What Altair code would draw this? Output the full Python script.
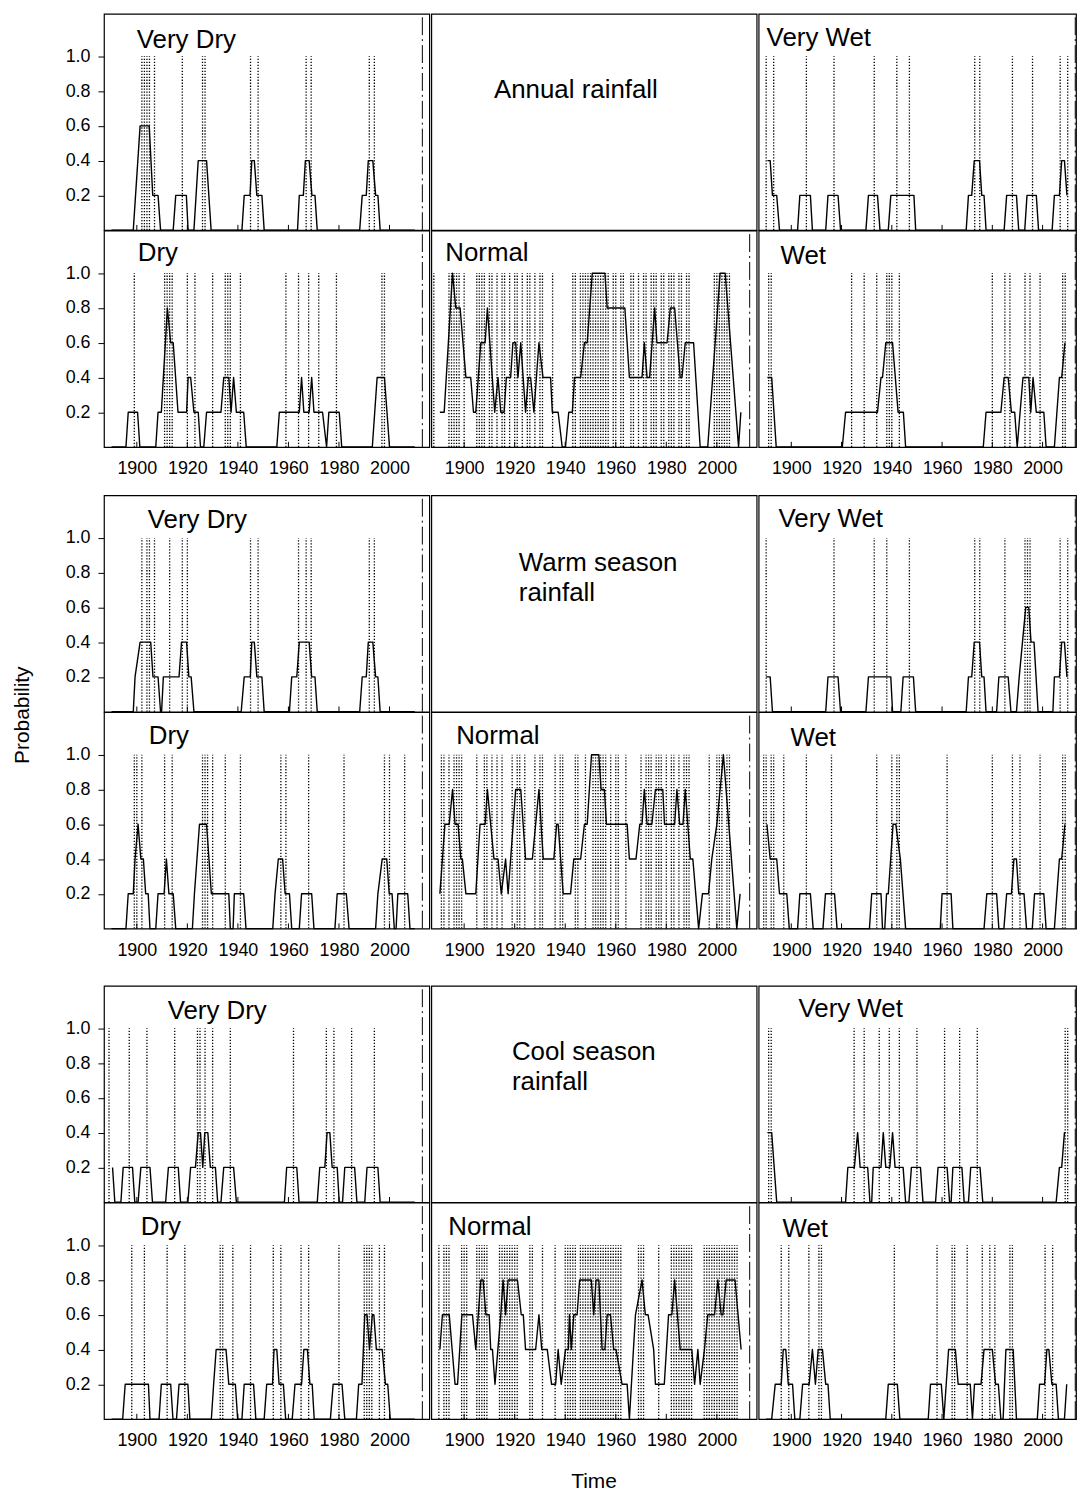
import altair as alt
import pandas as pd

FONT = "Liberation Sans"
TICK_YEARS = [1900, 1920, 1940, 1960, 1980, 2000]
PROB_TICKS = [0.2, 0.4, 0.6, 0.8, 1.0]
BREAK_YEAR = [2013]
X_DOMAIN = [1887, 2015.75]
X_DOMAIN_RIGHT = [1887, 2013.3]
Y_MAX = 1.245
EVENT_TOP = 1.0
TICK_LEN = 0.03

# ---------------- Annual rainfall ----------------
ANNUAL_VERY_DRY = [(1890, 0), (1898.6, 0), (1901.3, .6), (1904.9, .6), (1906.3, .2), (1908.4, .2), (1909.4, 0),
                   (1914.4, 0), (1915.4, .2), (1919.6, .2), (1920.3, 0), (1922.6, 0), (1924.3, .4), (1927.6, .4),
                   (1929.4, 0), (1941.6, 0), (1942.5, .2), (1944.8, .2), (1945.5, .4), (1946.5, .4), (1947.5, .2),
                   (1949.5, .2), (1950.4, 0), (1963.6, 0), (1964.3, .2), (1965.9, .2), (1966.7, .4), (1968.2, .4),
                   (1969.3, .2), (1970.5, .2), (1971.4, 0), (1988.2, 0), (1989.2, .2), (1990.8, .2), (1991.6, .4),
                   (1993.4, .4), (1994.5, .2), (1995.4, .2), (1996.3, 0), (2010, 0)]
ANNUAL_VERY_DRY_EVENTS = [1902, 1903, 1904, 1905, 1907, 1918, 1926, 1927, 1945, 1948, 1967, 1969, 1992, 1994]

ANNUAL_DRY = [(1890, 0), (1895.7, 0), (1896.6, .2), (1900.3, .2), (1901.2, 0), (1907.5, 0), (1908.4, .2),
              (1909.7, .2), (1912.1, .8), (1913.4, .6), (1914.4, .6), (1916.3, .2), (1919.7, .2), (1920.3, .4),
              (1921.3, .4), (1922.6, .2), (1924.3, .2), (1925.2, 0), (1926.5, 0), (1927.6, .2), (1933.3, .2),
              (1934.4, .4), (1936.4, .4), (1937.3, .2), (1938.3, .4), (1939.4, .2), (1942.3, .2), (1943.3, 0),
              (1955.4, 0), (1956.4, .2), (1964.3, .2), (1965.2, .4), (1966.1, .2), (1968.2, .2), (1969.2, .4),
              (1970.1, .2), (1973.5, .2), (1975.1, 0), (1976.0, .2), (1980.1, .2), (1981.1, 0), (1993.2, 0),
              (1995.1, .4), (1998.0, .4), (2000.0, 0), (2010, 0)]
ANNUAL_DRY_EVENTS = [1899, 1911, 1912, 1913, 1914, 1920, 1923, 1930, 1935, 1936, 1937, 1941, 1959, 1964, 1968,
                     1972, 1979, 1997, 1998]

ANNUAL_NORMAL = [(1890.4, .2), (1892.1, .2), (1895.4, 1.0), (1896.7, .8), (1898.4, .8), (1900.7, .4), (1902.6, .4),
                 (1903.7, .2), (1904.6, .2), (1906.6, .6), (1908.3, .6), (1909.2, .8), (1912.1, .2), (1913.4, .4),
                 (1914.5, .2), (1915.8, .2), (1916.7, .4), (1918.4, .4), (1919.3, .6), (1920.4, .6), (1921.3, .4),
                 (1922.4, .6), (1924.3, .2), (1925.4, .4), (1926.3, .4), (1927.6, .2), (1929.6, .6), (1931.2, .4),
                 (1934.2, .4), (1934.9, .2), (1937.2, .2), (1938.8, 0), (1940.1, 0), (1941.4, .2), (1942.8, .2),
                 (1943.7, .4), (1946.1, .4), (1947.6, .6), (1948.7, .6), (1950.7, 1.0), (1955.7, 1.0), (1956.6, .8),
                 (1963.6, .8), (1965.4, .4), (1970.4, .4), (1971.3, .6), (1972.4, .4), (1973.4, .4), (1975.4, .8),
                 (1976.3, .6), (1980.3, .6), (1981.6, .8), (1983.3, .8), (1985.5, .4), (1986.2, .4), (1987.5, .6),
                 (1990.8, .6), (1993.4, 0), (1996.4, 0), (2001.3, 1.0), (2003.3, 1.0), (2008.6, 0), (2009.5, .2)]
ANNUAL_NORMAL_EVENTS = [1888, 1894, 1895, 1896, 1897, 1898, 1900, 1905, 1906, 1907, 1908, 1910, 1911, 1913, 1915,
                        1916, 1918, 1920, 1921, 1923, 1925, 1926, 1928, 1930, 1931, 1935, 1943, 1944, 1946, 1947,
                        1948, 1949, 1950, 1951, 1952, 1953, 1954, 1955, 1956, 1957, 1959, 1960, 1962, 1963, 1966,
                        1967, 1969, 1971, 1972, 1974, 1975, 1976, 1978, 1979, 1981, 1982, 1983, 1985, 1986, 1988,
                        1989, 1999, 2000, 2001, 2002, 2003, 2004, 2005]

ANNUAL_VERY_WET = [(1890.5, .4), (1891.6, .4), (1892.5, .2), (1894.2, .2), (1895.3, 0), (1902.5, 0), (1903.4, .2),
                   (1907.6, .2), (1908.4, 0), (1913.7, 0), (1914.6, .2), (1918.6, .2), (1919.6, 0), (1929.7, 0),
                   (1930.7, .2), (1934.3, .2), (1935.3, 0), (1938.6, 0), (1939.6, .2), (1948.8, .2), (1949.5, 0),
                   (1969.6, 0), (1970.5, .2), (1971.8, .2), (1972.8, .4), (1974.9, .4), (1975.8, .2), (1976.7, .2),
                   (1977.5, 0), (1984.7, 0), (1985.7, .2), (1989.6, .2), (1990.5, 0), (1992.9, 0), (1993.8, .2),
                   (1997.5, .2), (1998.4, 0), (2003.8, 0), (2004.7, .2), (2006.7, .2), (2007.6, .4), (2008.7, .4),
                   (2009.7, .2)]
ANNUAL_VERY_WET_EVENTS = [1890, 1893, 1906, 1917, 1933, 1942, 1947, 1973, 1975, 1988, 1996, 2007, 2010]

ANNUAL_WET = [(1890.5, .4), (1892.2, .4), (1894, 0), (1920.3, 0), (1921.6, .2), (1934.3, .2), (1935.7, .4),
              (1936.3, .4), (1937.6, .6), (1940.3, .6), (1942.5, .2), (1944.6, .2), (1945.5, 0), (1976.4, 0),
              (1977.5, .2), (1983.4, .2), (1984.7, .4), (1986.3, .4), (1987.6, .2), (1988.9, .2), (1989.9, 0),
              (1992.2, .4), (1994.5, .4), (1995.3, .2), (1996.2, .4), (1997.5, .2), (2000.5, .2), (2001.4, 0),
              (2004.7, 0), (2006.7, .4), (2007.6, .4), (2008.9, .6)]
ANNUAL_WET_EVENTS = [1891, 1892, 1924, 1929, 1934, 1938, 1939, 1940, 1943, 1980, 1985, 1987, 1993, 1995, 1999,
                     2008, 2009]

# ---------------- Warm season rainfall ----------------
WARM_VERY_DRY = [(1890, 0), (1898.6, 0), (1899.3, .2), (1901.3, .4), (1905.5, .4), (1906.4, .2), (1908.4, .2),
                 (1909.4, 0), (1909.8, 0), (1910.5, .2), (1916.7, .2), (1917.7, .4), (1919.7, .4), (1920.6, .2),
                 (1921.5, .2), (1922.6, 0), (1941.3, 0), (1942.5, .2), (1944.9, .2), (1945.5, .4), (1946.5, .4),
                 (1947.5, .2), (1949.5, .2), (1950.4, 0), (1960.4, 0), (1961.3, .2), (1963.3, .2), (1964.3, .4),
                 (1968.2, .4), (1969.2, .2), (1970.5, .2), (1971.4, 0), (1988.2, 0), (1989.2, .2), (1990.8, .2),
                 (1991.6, .4), (1993.4, .4), (1994.5, .2), (1995.4, .2), (1996.3, 0), (2010, 0)]
WARM_VERY_DRY_EVENTS = [1902, 1904, 1905, 1907, 1913, 1918, 1920, 1945, 1948, 1964, 1967, 1969, 1992, 1994]

WARM_DRY = [(1890, 0), (1895.7, 0), (1896.6, .2), (1898.6, .2), (1899.3, .4), (1900.5, .6), (1901.6, .4),
            (1902.6, .4), (1903.5, .2), (1904.5, .2), (1905.2, 0), (1907.5, 0), (1908.4, .2), (1910.8, .2),
            (1911.7, .4), (1912.7, .2), (1914.4, .2), (1915.4, 0), (1922, 0), (1922.8, .2), (1924.8, .6),
            (1927.6, .6), (1929.5, .2), (1936.4, .2), (1937, 0), (1938.1, 0), (1938.6, .2), (1942.3, .2),
            (1943.2, 0), (1953.8, 0), (1954.7, .2), (1956, .4), (1957.7, .4), (1958.7, .2), (1960.4, .2),
            (1961.3, 0), (1964.3, 0), (1965.2, .2), (1969.2, .2), (1970.1, 0), (1978.4, 0), (1979.3, .2),
            (1982.9, .2), (1984, 0), (1994.5, 0), (1995.4, .2), (1997.1, .4), (1998.9, .4), (1999.9, .2),
            (2001, .2), (2001.9, 0), (2002.6, 0), (2003.3, .2), (2007.2, .2), (2008.1, 0), (2010, 0)]
WARM_DRY_EVENTS = [1899, 1900, 1902, 1911, 1914, 1926, 1927, 1928, 1930, 1935, 1941, 1957, 1959, 1968, 1982,
                   1998, 2000, 2006]

WARM_NORMAL = [(1890.4, .2), (1892.4, .6), (1894.1, .6), (1895.4, .8), (1896.4, .6), (1897.6, .6), (1898.7, .4),
               (1899.3, .4), (1900.7, .2), (1904.6, .2), (1906.3, .6), (1908.3, .6), (1909.2, .8), (1911.8, .4),
               (1913.4, .4), (1914.7, .2), (1916.4, .4), (1917.4, .2), (1920.4, .8), (1922.4, .8), (1924.3, .4),
               (1927, .4), (1929.6, .8), (1931.3, .4), (1935.5, .4), (1936.6, .6), (1937.2, .6), (1939.2, .2),
               (1942.1, .2), (1943.4, .4), (1946.1, .4), (1947.6, .6), (1948.7, .6), (1950.4, 1.0), (1953.3, 1.0),
               (1954.2, .8), (1955.5, .8), (1956.3, .6), (1964.5, .6), (1965.4, .4), (1968, .4), (1969.5, .6),
               (1970.4, .6), (1971.3, .8), (1972.4, .6), (1974.3, .6), (1975.7, .8), (1978.6, .8), (1979.3, .6),
               (1983.3, .6), (1984.2, .8), (1985.3, .6), (1986.6, .6), (1987.5, .8), (1989.5, .4), (1990.5, .4),
               (1992.8, 0), (1994.3, .2), (1996.7, .2), (1998, .4), (2000, .6), (2002.6, 1.0), (2007.9, 0),
               (2009.2, .2)]
WARM_NORMAL_EVENTS = [1891, 1892, 1894, 1896, 1897, 1898, 1899, 1905, 1908, 1909, 1911, 1913, 1915, 1919, 1921,
                      1922, 1924, 1928, 1930, 1931, 1936, 1938, 1939, 1944, 1945, 1948, 1951, 1952, 1953, 1954,
                      1955, 1956, 1958, 1960, 1961, 1964, 1970, 1972, 1973, 1974, 1976, 1977, 1978, 1980, 1982,
                      1983, 1985, 1987, 1988, 1989, 1997, 2000, 2001, 2002, 2004, 2005]

WARM_VERY_WET = [(1890, .2), (1891.6, .2), (1892.5, 0), (1913.7, 0), (1914.6, .2), (1918.6, .2), (1919.6, 0),
                 (1929.7, 0), (1930.7, .2), (1939.6, .2), (1940.3, 0), (1943.6, 0), (1944.5, .2), (1948.6, .2),
                 (1949.5, 0), (1969.6, 0), (1970.5, .2), (1971.8, .2), (1972.8, .4), (1974.9, .4), (1975.8, .2),
                 (1976.7, .2), (1977.5, 0), (1981.7, 0), (1982.6, .2), (1986.3, .2), (1987.4, 0), (1989.6, 0),
                 (1990.7, .2), (1993.3, .6), (1994.5, .6), (1995.4, .4), (1996.6, .4), (1998.2, 0), (2004.1, 0),
                 (2004.7, .2), (2006.7, .2), (2007.6, .4), (2008.7, .4), (2009.7, .2)]
WARM_VERY_WET_EVENTS = [1890, 1917, 1933, 1938, 1947, 1973, 1975, 1985, 1993, 1994, 1995, 2007, 2010]

WARM_WET = [(1890.3, .6), (1891.6, .4), (1894.2, .4), (1895.3, .2), (1898.2, .2), (1899.2, 0), (1902.5, 0),
            (1903.4, .2), (1907.6, .2), (1908.7, 0), (1912.6, 0), (1913.6, .2), (1917.2, .2), (1918.2, 0),
            (1931.1, 0), (1932, .2), (1935.7, .2), (1936.3, 0), (1937.2, 0), (1937.9, .2), (1938.6, .2),
            (1940.5, .6), (1941.6, .6), (1943.4, .4), (1945.5, 0), (1959.3, 0), (1960, .2), (1963.6, .2),
            (1964.3, 0), (1976.7, 0), (1977.8, .2), (1981.7, .2), (1982.6, 0), (1984.6, 0), (1985.7, .2),
            (1987.6, .2), (1988.6, .4), (1989.6, .4), (1990.5, .2), (1992.6, .2), (1993.6, 0), (1995.9, 0),
            (1996.8, .2), (2000.5, .2), (2001.4, 0), (2004.7, 0), (2006.7, .4), (2007.6, .4), (2008.9, .6)]
WARM_WET_EVENTS = [1889, 1890, 1892, 1893, 1897, 1906, 1916, 1934, 1940, 1942, 1943, 1962, 1980, 1988, 1991,
                   1999, 2008, 2009]

# ---------------- Cool season rainfall ----------------
COOL_VERY_DRY = [(1890.4, .2), (1891.3, 0), (1893.7, 0), (1894.6, .2), (1898.3, .2), (1899.2, 0), (1900.5, 0),
                 (1901.6, .2), (1905.2, .2), (1906.2, 0), (1911.4, 0), (1912.5, .2), (1916.4, .2), (1917.3, 0),
                 (1920.2, 0), (1921.3, .2), (1923.2, .2), (1924.3, .4), (1925.2, .4), (1926.1, .2), (1926.9, .4),
                 (1928.1, .4), (1929.1, .2), (1931.1, .2), (1932, 0), (1933.3, 0), (1934.4, .2), (1938.3, .2),
                 (1939.4, 0), (1958.4, 0), (1959.3, .2), (1963.3, .2), (1964.2, 0), (1971.4, 0), (1972.4, .2),
                 (1974.4, .2), (1975.3, .4), (1976.4, .4), (1977.3, .2), (1979.3, .2), (1980.1, 0), (1981.4, 0),
                 (1982.3, .2), (1986.2, .2), (1987.1, 0), (1990.2, 0), (1991.1, .2), (1995.4, .2), (1996.3, 0),
                 (2010, 0)]
COOL_VERY_DRY_EVENTS = [1889, 1897, 1904, 1915, 1924, 1925, 1927, 1930, 1937, 1962, 1975, 1978, 1985, 1994]

COOL_DRY = [(1890, 0), (1894.4, 0), (1895.4, .2), (1904.6, .2), (1905.2, 0), (1908.8, 0), (1909.7, .2),
            (1913.4, .2), (1914.3, 0), (1915.7, 0), (1916.7, .2), (1920.2, .2), (1921, 0), (1929.5, 0),
            (1930.4, .2), (1931.4, .4), (1935.3, .4), (1936.4, .2), (1939, .2), (1939.9, 0), (1941.6, 0),
            (1942.5, .2), (1946.2, .2), (1947.1, 0), (1950.4, 0), (1951.4, .2), (1953.7, .2), (1954.3, .4),
            (1955.4, .4), (1956.3, .2), (1958, .2), (1958.9, 0), (1961.5, 0), (1962.6, .2), (1965.2, .2),
            (1966.1, .4), (1967.5, .4), (1968.5, .2), (1969.4, .2), (1970.2, 0), (1976.6, 0), (1977.7, .2),
            (1981.2, .2), (1982.3, 0), (1986.9, 0), (1987.8, .2), (1989.1, .2), (1990.2, .6), (1991.1, .6),
            (1992.1, .4), (1993.2, .6), (1993.8, .6), (1994.8, .4), (1997.1, .4), (1998.4, .2), (1999.3, .2),
            (2000.3, 0), (2010, 0)]
COOL_DRY_EVENTS = [1898, 1903, 1912, 1919, 1933, 1934, 1938, 1945, 1954, 1957, 1965, 1968, 1980, 1990, 1991,
                   1992, 1993, 1996, 1998]

COOL_NORMAL = [(1890.4, .4), (1891.4, .6), (1894.1, .6), (1896.4, .2), (1897.4, .2), (1899.1, .6), (1903.3, .6),
               (1904.6, .4), (1906.6, .8), (1907.5, .8), (1908.6, .6), (1909.9, .6), (1910.5, .4), (1911.2, .4),
               (1912.2, .2), (1914.5, .6), (1915.4, .8), (1916.4, .6), (1917.4, .8), (1921.1, .8), (1922.6, .6),
               (1923.4, .6), (1924.3, .4), (1928.3, .4), (1929.6, .6), (1930.7, .4), (1932.9, .4), (1934.6, .2),
               (1936.2, .2), (1937.2, .4), (1938.4, .2), (1940.1, .4), (1941.2, .4), (1941.7, .6), (1942.4, .4),
               (1943.4, .6), (1944.7, .6), (1945.7, .8), (1950.3, .8), (1951.3, .6), (1952.2, .8), (1953.3, .8),
               (1954.6, .4), (1955.7, .4), (1956.6, .6), (1957.9, .6), (1959.2, .4), (1960.1, .4), (1962.5, .2),
               (1964.5, .2), (1965.4, 0), (1967.8, .6), (1970.4, .8), (1971.7, .6), (1972.8, .6), (1975, .4),
               (1975.7, .2), (1979.2, .2), (1980.9, .6), (1982.2, .6), (1983.3, .8), (1985.5, .4), (1990.1, .4),
               (1991.2, .2), (1992.5, .4), (1993.4, .2), (1995.1, .4), (1996.4, .6), (1999.1, .6), (2000.4, .8),
               (2001.7, .6), (2002.4, .6), (2003.7, .8), (2007.2, .8), (2009.6, .4)]
COOL_NORMAL_EVENTS = [1890, 1892, 1893, 1894, 1899, 1900, 1901, 1905, 1906, 1907, 1908, 1909, 1914, 1915, 1916,
                      1917, 1918, 1919, 1920, 1921, 1926, 1927, 1931, 1936, 1940, 1941, 1942, 1943, 1944, 1946,
                      1947, 1948, 1949, 1950, 1951, 1952, 1953, 1954, 1955, 1956, 1957, 1958, 1959, 1960, 1961,
                      1962, 1969, 1970, 1971, 1977, 1982, 1983, 1984, 1985, 1986, 1987, 1988, 1989, 1990, 1995,
                      1996, 1997, 1998, 1999, 2000, 2001, 2002, 2003, 2004, 2005, 2006, 2007, 2008]

COOL_VERY_WET = [(1890.5, .4), (1892.2, .4), (1894.2, 0), (1921.6, 0), (1922.5, .2), (1925.1, .2), (1926.4, .4),
                 (1927.4, .2), (1930.4, .2), (1931.3, 0), (1932, 0), (1932.6, .2), (1935.7, .2), (1936.6, .4),
                 (1937.6, .2), (1939.2, .2), (1940.3, .4), (1941.3, .2), (1944.5, .2), (1945.5, 0), (1946.8, 0),
                 (1947.8, .2), (1951.4, .2), (1952.4, 0), (1957.4, 0), (1958.4, .2), (1962, .2), (1963, 0),
                 (1963.6, 0), (1964.3, .2), (1967.9, .2), (1968.8, 0), (1970.5, 0), (1971.4, .2), (1975.1, .2),
                 (1976.2, 0), (2005.4, 0), (2006.7, .2), (2007.6, .2), (2008.7, .4), (2009.2, .4)]
COOL_VERY_WET_EVENTS = [1891, 1892, 1925, 1929, 1935, 1939, 1943, 1950, 1961, 1967, 1974, 2009, 2010]

COOL_WET = [(1890, 0), (1892.2, 0), (1893.6, .2), (1896, .2), (1896.8, .4), (1897.8, .4), (1898.8, .2),
            (1900.5, .2), (1901.4, 0), (1903.4, 0), (1904.5, .2), (1907.1, .2), (1908.4, .4), (1909.6, .2),
            (1910.7, .4), (1912.4, .4), (1913.7, .2), (1914.6, .2), (1915.5, 0), (1937.6, 0), (1938.6, .2),
            (1942.2, .2), (1943.2, 0), (1954.5, 0), (1955.4, .2), (1959.7, .2), (1960.7, 0), (1962.6, .4),
            (1965.3, .4), (1966.4, .2), (1971.2, .2), (1972.1, 0), (1972.9, .2), (1975.5, .2), (1976.7, .4),
            (1980, .4), (1981.3, .2), (1982.4, .2), (1983.4, 0), (1984.3, 0), (1985.4, .4), (1988.3, .4),
            (1989.6, 0), (1997.9, 0), (1998.8, .2), (2000.8, .2), (2001.7, .4), (2002.5, .4), (2003.7, .2),
            (2005.4, .2), (2006.3, 0), (2008.7, 0), (2009.6, .2)]
COOL_WET_EVENTS = [1896, 1899, 1907, 1911, 1912, 1941, 1958, 1964, 1965, 1970, 1976, 1979, 1981, 1987, 1988,
                   2001, 2004]

PANEL_NAMES = ["Very Dry", "Dry", "Normal", "Very Wet", "Wet"]
SEASON_TITLES = [["Annual rainfall"], ["Warm season", "rainfall"], ["Cool season", "rainfall"]]

# ---------------- layout / style ----------------
W = 327
W_RIGHT = 319
H = 217.5
GAP1 = 48
GAP2 = 57
NAME_SIZE = 26
AXIS_SIZE = 18


def panel(series, events, name, lx, ly, col, bottom, extra=None):
    domain = X_DOMAIN_RIGHT if col == 2 else X_DOMAIN
    width = W_RIGHT if col == 2 else W
    if bottom:
        xaxis = alt.Axis(values=TICK_YEARS, format="d", labelFontSize=AXIS_SIZE, labelFont=FONT,
                         labelColor="black", ticks=False, domain=False, grid=False, labelPadding=13,
                         labelFlush=False, labelOverlap=False, title=None)
    else:
        xaxis = None
    if col == 0:
        yaxis = alt.Axis(values=PROB_TICKS, format=".1f", labelFontSize=AXIS_SIZE, labelFont=FONT,
                         labelColor="black", tickColor="black", tickSize=6, labelPadding=8,
                         domain=False, grid=False, title=None, labelFlush=False, labelOverlap=False)
    else:
        yaxis = None
    xs = alt.Scale(domain=domain, nice=False, zero=False)
    ys = alt.Scale(domain=[0, Y_MAX], nice=False, zero=False)
    X = alt.X("year:Q", scale=xs, axis=xaxis, title=None)
    Y0 = alt.YDatum(0, type="quantitative", scale=ys, axis=yaxis, title=None)

    line_df = pd.DataFrame(series, columns=["year", "prob"])
    ev_df = pd.DataFrame({"year": events})
    tick_df = pd.DataFrame({"year": TICK_YEARS})
    brk_df = pd.DataFrame({"year": BREAK_YEAR})
    lab_df = pd.DataFrame({"label": [name]})

    ev = alt.Chart(ev_df).mark_rule(color="black", strokeWidth=1.3, strokeDash=[1.3, 1.7]).encode(
        x=X, y=Y0, y2=alt.Y2Datum(EVENT_TOP))
    ticks = alt.Chart(tick_df).mark_rule(color="black", strokeWidth=1).encode(
        x=X, y=Y0, y2=alt.Y2Datum(TICK_LEN))
    brk = alt.Chart(brk_df).mark_rule(color="black", strokeWidth=1, strokeDash=[18, 4, 2, 4]).encode(
        x=X, y=Y0, y2=alt.Y2Datum(Y_MAX))
    line = alt.Chart(line_df).mark_line(color="black", strokeWidth=1.4, strokeJoin="round").encode(
        x=X, y=alt.Y("prob:Q", scale=ys, axis=yaxis, title=None))
    lab = alt.Chart(lab_df).mark_text(align="left", baseline="alphabetic", fontSize=NAME_SIZE, font=FONT,
                                      color="black").encode(x=alt.value(lx), y=alt.value(ly), text="label:N")
    layers = [ev, ticks, brk, line, lab]
    if extra is not None:
        layers.append(extra)
    return alt.layer(*layers).properties(width=width, height=H)


def title_panel(lines, tx, ty):
    return alt.Chart(pd.DataFrame({"k": [0]})).mark_text(
        text=lines, align="left", baseline="alphabetic", fontSize=NAME_SIZE, font=FONT,
        lineHeight=30, color="black").encode(x=alt.value(tx), y=alt.value(ty)).properties(width=W, height=H)


def spacer(width, height):
    return alt.Chart(pd.DataFrame({"k": [0]})).mark_rule(opacity=0).encode(
        x=alt.value(0), y=alt.value(0), y2=alt.value(1)
    ).properties(width=width, height=height, view=alt.ViewBackground(stroke="transparent"))


def free_text(txt, x, y, size, angle=0):
    return alt.Chart(pd.DataFrame({"label": [txt]})).mark_text(
        align="center", baseline="middle" if angle else "alphabetic", fontSize=size, font=FONT,
        angle=angle, color="black").encode(x=alt.value(x), y=alt.value(y), text="label:N")


def column(cells):
    return alt.vconcat(*cells, spacing=0, bounds="flush")


# label positions (px inside panel): very dry, dry, normal, very wet, wet
POS_ANNUAL = [(33, 34), (34, 31), (14, 31), (8, 32), (22, 34)]
POS_WARM = [(44, 33), (45, 32), (25, 32), (20, 32), (32, 34)]
POS_COOL = [(64, 33), (37, 32), (17, 32), (40, 31), (24, 34)]

left_col = column([
    panel(ANNUAL_VERY_DRY, ANNUAL_VERY_DRY_EVENTS, PANEL_NAMES[0], *POS_ANNUAL[0], col=0, bottom=False),
    panel(ANNUAL_DRY, ANNUAL_DRY_EVENTS, PANEL_NAMES[1], *POS_ANNUAL[1], col=0, bottom=True),
    spacer(W, GAP1),
    panel(WARM_VERY_DRY, WARM_VERY_DRY_EVENTS, PANEL_NAMES[0], *POS_WARM[0], col=0, bottom=False,
          extra=free_text("Probability", -81, 221, 21, angle=270)),
    panel(WARM_DRY, WARM_DRY_EVENTS, PANEL_NAMES[1], *POS_WARM[1], col=0, bottom=True),
    spacer(W, GAP2),
    panel(COOL_VERY_DRY, COOL_VERY_DRY_EVENTS, PANEL_NAMES[0], *POS_COOL[0], col=0, bottom=False),
    panel(COOL_DRY, COOL_DRY_EVENTS, PANEL_NAMES[1], *POS_COOL[1], col=0, bottom=True),
])

mid_col = column([
    title_panel(SEASON_TITLES[0], 63, 85),
    panel(ANNUAL_NORMAL, ANNUAL_NORMAL_EVENTS, PANEL_NAMES[2], *POS_ANNUAL[2], col=1, bottom=True),
    spacer(W, GAP1),
    title_panel(SEASON_TITLES[1], 88, 76),
    panel(WARM_NORMAL, WARM_NORMAL_EVENTS, PANEL_NAMES[2], *POS_WARM[2], col=1, bottom=True),
    spacer(W, GAP2),
    title_panel(SEASON_TITLES[2], 81, 75),
    panel(COOL_NORMAL, COOL_NORMAL_EVENTS, PANEL_NAMES[2], *POS_COOL[2], col=1, bottom=True,
          extra=free_text("Time", W / 2, 286.5, 21)),
])

right_col = column([
    panel(ANNUAL_VERY_WET, ANNUAL_VERY_WET_EVENTS, PANEL_NAMES[3], *POS_ANNUAL[3], col=2, bottom=False),
    panel(ANNUAL_WET, ANNUAL_WET_EVENTS, PANEL_NAMES[4], *POS_ANNUAL[4], col=2, bottom=True),
    spacer(W_RIGHT, GAP1),
    panel(WARM_VERY_WET, WARM_VERY_WET_EVENTS, PANEL_NAMES[3], *POS_WARM[3], col=2, bottom=False),
    panel(WARM_WET, WARM_WET_EVENTS, PANEL_NAMES[4], *POS_WARM[4], col=2, bottom=True),
    spacer(W_RIGHT, GAP2),
    panel(COOL_VERY_WET, COOL_VERY_WET_EVENTS, PANEL_NAMES[3], *POS_COOL[3], col=2, bottom=False),
    panel(COOL_WET, COOL_WET_EVENTS, PANEL_NAMES[4], *POS_COOL[4], col=2, bottom=True),
])

chart = alt.hconcat(left_col, mid_col, right_col, spacing=0).properties(
    padding={"left": 11.5, "top": 8, "right": 0, "bottom": 0},
    background="white",
).configure_view(stroke="black", strokeWidth=1.2)

chart.save("out.html", embed_options={"renderer": "svg", "actions": False})
